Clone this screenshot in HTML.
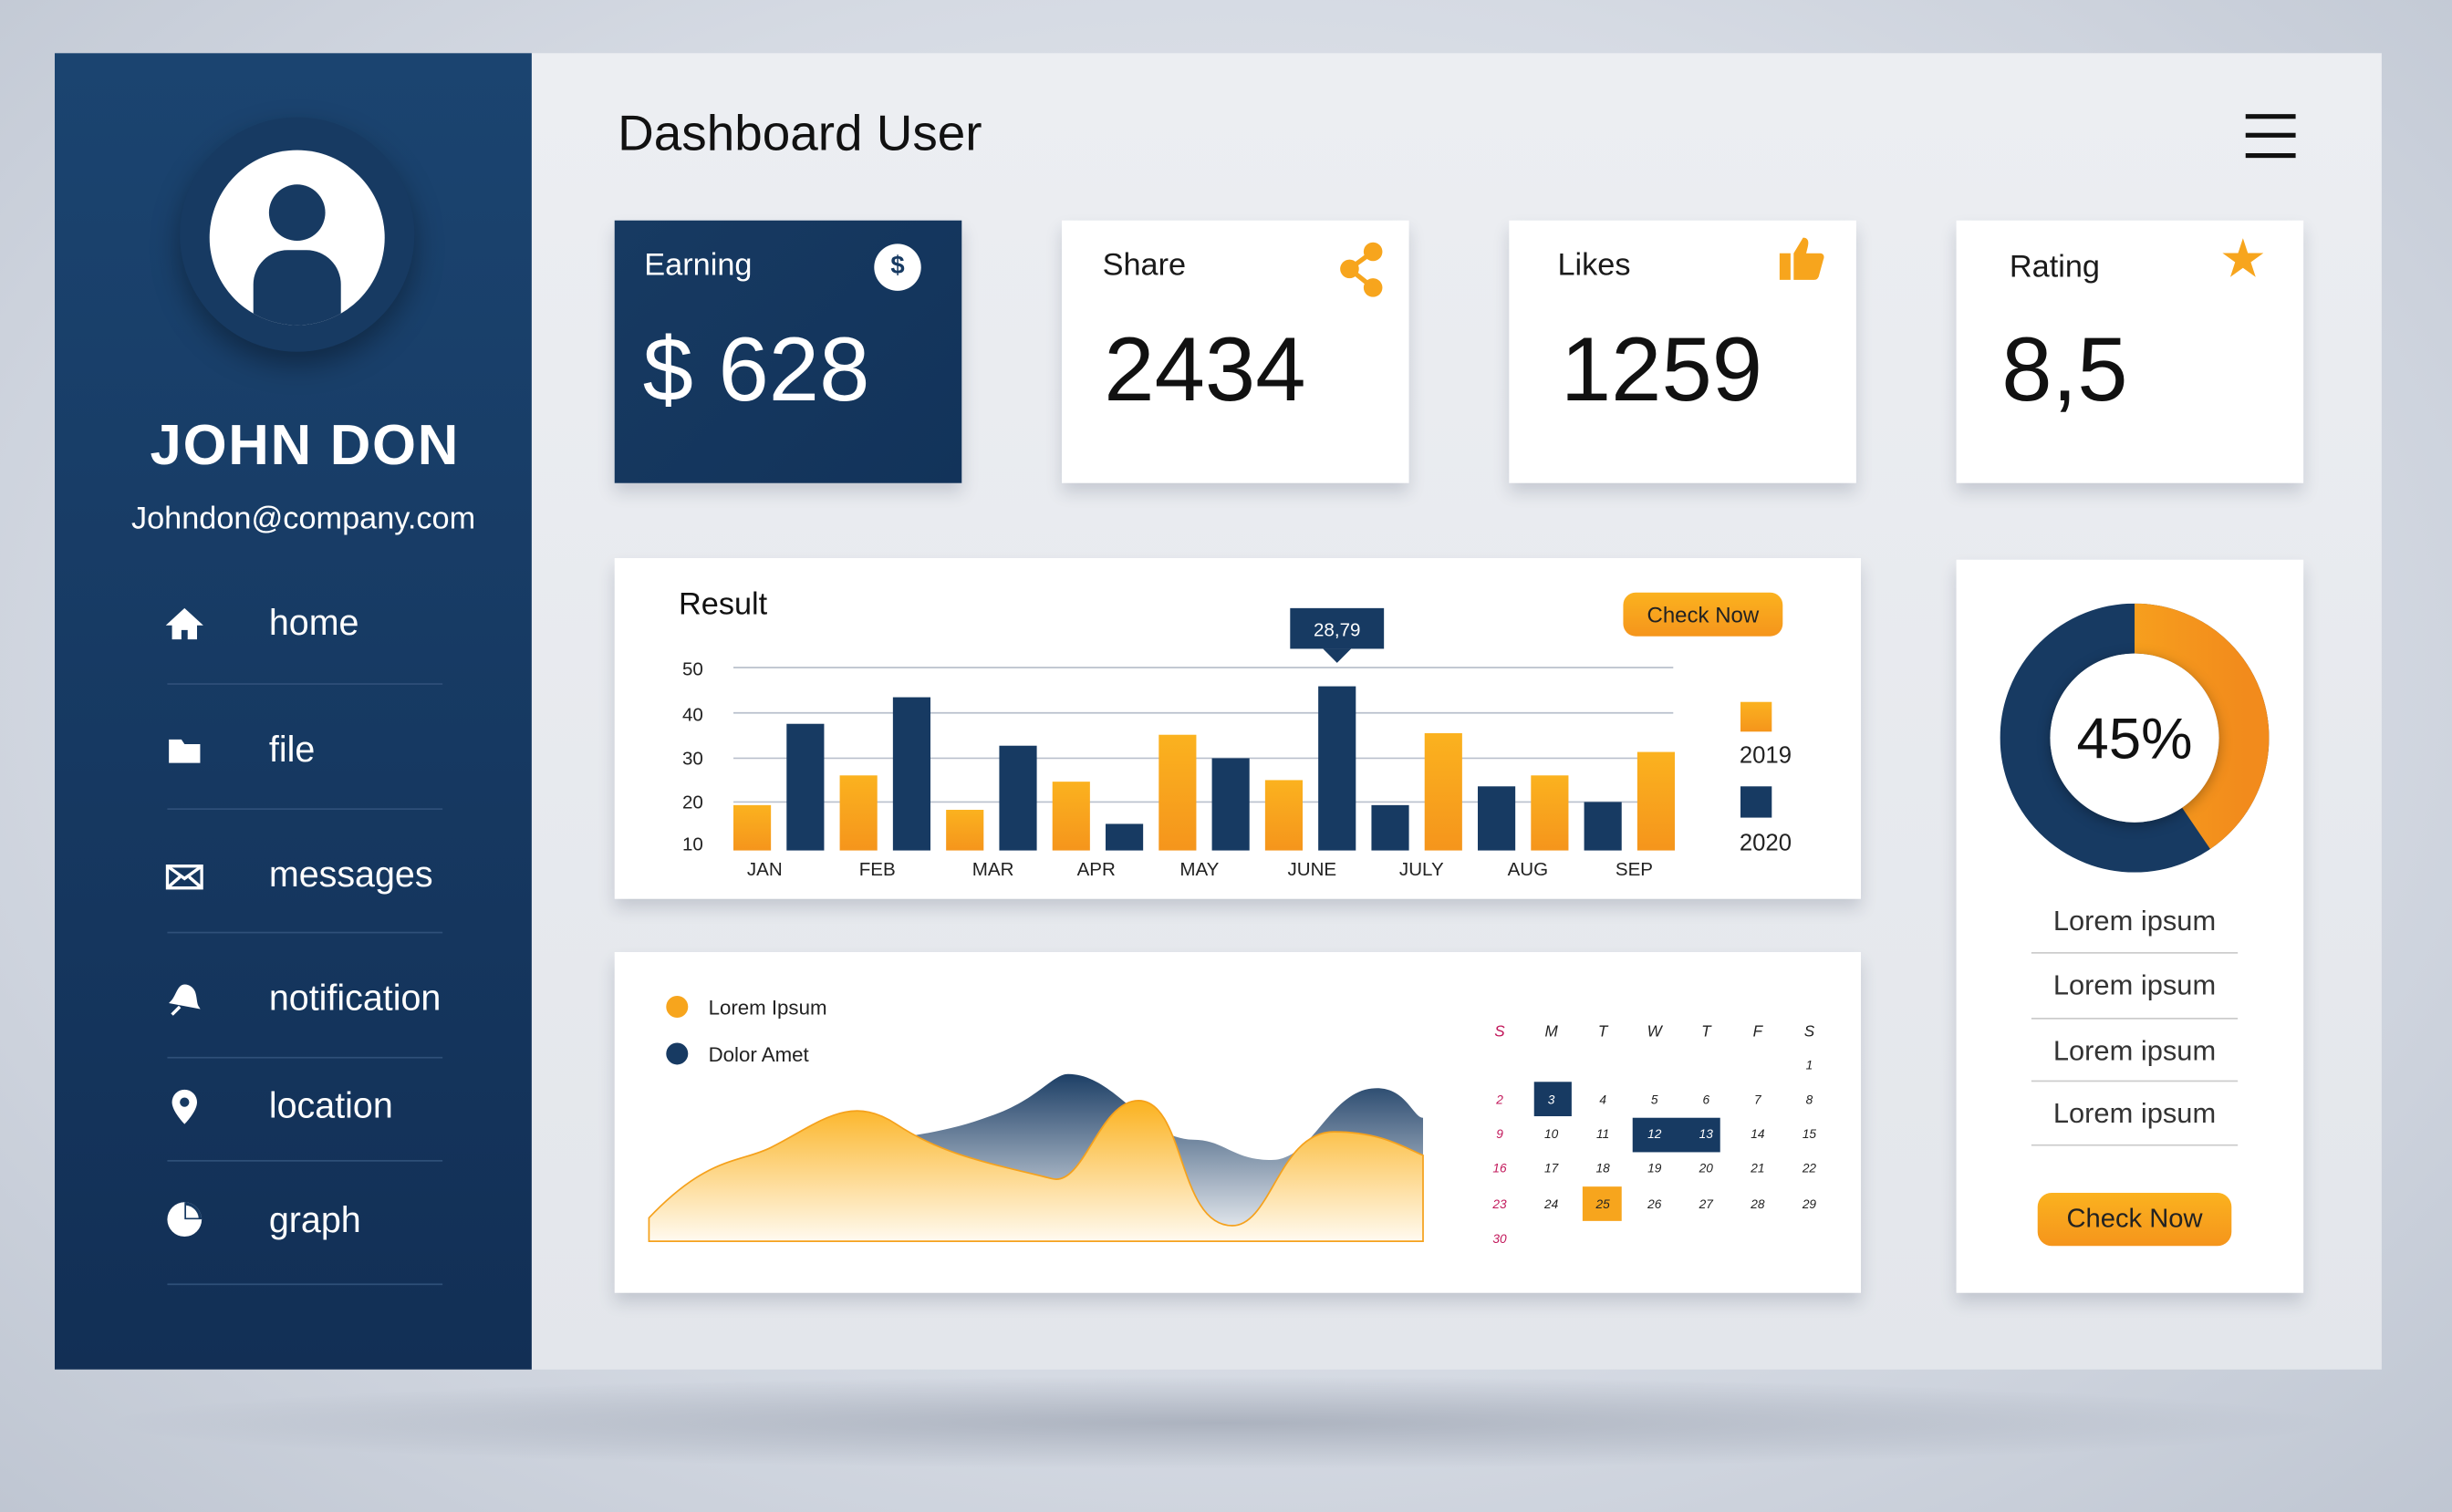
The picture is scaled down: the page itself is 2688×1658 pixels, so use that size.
<!DOCTYPE html>
<html><head><meta charset="utf-8"><style>
html,body{margin:0;padding:0;}
body{width:2688px;height:1658px;overflow:hidden;background:radial-gradient(ellipse at 50% 45%,#eef0f4 0%,#d5dae3 60%,#bfc6d2 100%);font-family:"Liberation Sans",sans-serif;}
#w{position:absolute;left:0;top:0;width:1568px;height:967px;transform:scale(1.7143);transform-origin:0 0;}
.a{position:absolute;}
.card{position:absolute;background:#fff;box-shadow:0 6px 10px rgba(40,50,80,.18);}
.lbl{position:absolute;font-size:20px;color:#1a1a1a;}
.val{position:absolute;font-size:58px;color:#111;}
.menu{position:absolute;left:172px;font-size:23px;color:#fff;}
.div{position:absolute;left:107px;width:176px;height:1px;background:#2f5079;}
.ic{position:absolute;left:106px;width:24px;height:24px;}
.lor{position:absolute;left:1251px;width:228px;text-align:center;font-size:18px;color:#333;}
</style></head><body><div id="w">
<div class="a" style="left:60px;top:880px;width:1440px;height:60px;background:radial-gradient(ellipse,rgba(80,90,110,.3),rgba(80,90,110,0) 70%);"></div>
<div class="a" style="left:35px;top:34px;width:1488px;height:842px;background:linear-gradient(180deg,#eceef2,#e3e6eb);"></div>
<div class="a" style="left:35px;top:34px;width:305px;height:842px;background:linear-gradient(180deg,#1b4470,#122f55);"></div>
<div class="a" style="left:115px;top:75px;width:150px;height:150px;border-radius:50%;background:#173a62;box-shadow:0 8px 18px rgba(0,0,0,.35);"></div>
<div class="a" style="left:134px;top:96px;width:112px;height:112px;border-radius:50%;background:#fff;overflow:hidden;">
 <div class="a" style="left:38px;top:22px;width:36px;height:36px;border-radius:50%;background:#173a62;"></div>
 <div class="a" style="left:28px;top:64px;width:56px;height:60px;border-radius:22px 22px 0 0;background:#173a62;"></div>
</div>
<div class="a" style="left:35px;top:264px;width:320px;text-align:center;font-size:36px;color:#fff;font-weight:bold;letter-spacing:1px;">JOHN DON</div>
<div class="a" style="left:35px;top:321px;width:318px;text-align:center;font-size:20px;color:#fff;">Johndon@company.com</div>
<svg class="ic" style="top:387px" viewBox="0 0 24 24"><path d="M12 2L0 13h4v9h6v-6h4v6h6v-9h4z" fill="#fff"/></svg>
<div class="menu" style="top:385px">home</div><div class="div" style="top:437px"></div>
<svg class="ic" style="top:468px" viewBox="0 0 24 24"><path d="M2 5h8l2 3h10v12H2z" fill="#fff"/></svg>
<div class="menu" style="top:466px">file</div><div class="div" style="top:517px"></div>
<svg class="ic" style="top:549px" viewBox="0 0 24 24"><rect x="1" y="5" width="22" height="14" fill="none" stroke="#fff" stroke-width="2"/><path d="M1 5l11 8 11-8M1 19l8-7M23 19l-8-7" stroke="#fff" stroke-width="2" fill="none"/></svg>
<div class="menu" style="top:546px">messages</div><div class="div" style="top:596px"></div>
<svg class="ic" style="top:627px" viewBox="0 0 24 24"><path d="M4 14c4-4 4-12 10-10 6 2 4 10 6 13zM4 22l5-5" fill="#fff" stroke="#fff" stroke-width="2"/></svg>
<div class="menu" style="top:625px">notification</div><div class="div" style="top:676px"></div>
<svg class="ic" style="top:696px" viewBox="0 0 24 24"><path d="M12 1a8 8 0 0 0-8 8c0 6 8 14 8 14s8-8 8-14a8 8 0 0 0-8-8z" fill="#fff"/><circle cx="12" cy="9" r="3" fill="#173a62"/></svg>
<div class="menu" style="top:694px">location</div><div class="div" style="top:742px"></div>
<svg class="ic" style="top:768px" viewBox="0 0 24 24"><circle cx="12" cy="12" r="11" fill="#fff"/><path d="M12 12V1a11 11 0 0 1 11 11z" fill="#173a62"/><path d="M13 11V3a9 9 0 0 1 8 8z" fill="#fff"/></svg>
<div class="menu" style="top:767px">graph</div><div class="div" style="top:821px"></div>

<div class="a" style="left:395px;top:67px;font-size:32px;color:#111;">Dashboard User</div>
<div class="a" style="left:1436px;top:73px;width:32px;height:3px;background:#111;box-shadow:0 12px 0 #111,0 25px 0 #111;"></div>

<div class="card" style="left:393px;top:141px;width:222px;height:168px;background:linear-gradient(135deg,#173a62,#12335a);"></div>
<div class="lbl" style="left:412px;top:159px;color:#fff">Earning</div>
<div class="a" style="left:559px;top:156px;width:30px;height:30px;border-radius:50%;background:#fff;color:#173a62;font-weight:bold;font-size:16px;text-align:center;line-height:30px;">$</div>
<div class="val" style="left:411px;top:203px;color:#fff">$ 628</div>
<div class="card" style="left:679px;top:141px;width:222px;height:168px;"></div>
<div class="lbl" style="left:705px;top:159px">Share</div>
<svg class="a" style="left:856px;top:154px" width="30" height="36"><circle cx="22" cy="7" r="6" fill="#f7a51d"/><circle cx="7" cy="18" r="6" fill="#f7a51d"/><circle cx="22" cy="30" r="6" fill="#f7a51d"/><path d="M22 7L7 18 22 30" stroke="#f7a51d" stroke-width="3" fill="none"/></svg>
<div class="val" style="left:706px;top:203px">2434</div>
<div class="card" style="left:965px;top:141px;width:222px;height:168px;"></div>
<div class="lbl" style="left:996px;top:159px">Likes</div>
<svg class="a" style="left:1137px;top:150px" width="30" height="32" viewBox="0 0 30 32"><rect x="1" y="12" width="7" height="17" fill="#f7a51d"/><path d="M10 12l6-10c3 0 4 2 3 6l-1 4h9c2 0 3 2 2 4l-3 11c-1 2-2 2-3 2H10z" fill="#f7a51d"/></svg>
<div class="val" style="left:998px;top:203px">1259</div>
<div class="card" style="left:1251px;top:141px;width:222px;height:168px;"></div>
<div class="lbl" style="left:1285px;top:160px">Rating</div>
<div class="a" style="left:1419px;top:146px;font-size:34px;color:#f7a51d;">★</div>
<div class="val" style="left:1280px;top:203px">8,5</div>

<div class="card" style="left:393px;top:357px;width:797px;height:218px;"></div>
<div class="a" style="left:434px;top:376px;font-size:20px;color:#111;">Result</div>
<svg class="a" style="left:393px;top:357px" width="797" height="218">
<defs><linearGradient id="og" x1="0" y1="0" x2="0" y2="1"><stop offset="0" stop-color="#fbb21f"/><stop offset="1" stop-color="#f5951c"/></linearGradient></defs>
<g stroke="#b9c0cc" stroke-width="1"><line x1="76" y1="70" x2="677" y2="70"/><line x1="76" y1="99" x2="677" y2="99"/><line x1="76" y1="128" x2="677" y2="128"/><line x1="76" y1="156" x2="677" y2="156"/></g>
<g fill="url(#og)"><rect x="76" y="158" width="24" height="29"/><rect x="144" y="139" width="24" height="48"/><rect x="212" y="161" width="24" height="26"/><rect x="280" y="143" width="24" height="44"/><rect x="348" y="113" width="24" height="74"/><rect x="416" y="142" width="24" height="45"/><rect x="518" y="112" width="24" height="75"/><rect x="586" y="139" width="24" height="48"/><rect x="654" y="124" width="24" height="63"/></g>
<g fill="#173a62"><rect x="110" y="106" width="24" height="81"/><rect x="178" y="89" width="24" height="98"/><rect x="246" y="120" width="24" height="67"/><rect x="314" y="170" width="24" height="17"/><rect x="382" y="128" width="24" height="59"/><rect x="450" y="82" width="24" height="105"/><rect x="484" y="158" width="24" height="29"/><rect x="552" y="146" width="24" height="41"/><rect x="620" y="156" width="24" height="31"/></g>
<rect x="432" y="32" width="60" height="26" fill="#173a62"/><path d="M453 58h18l-9 9z" fill="#173a62"/>
<text x="462" y="50" font-size="12" fill="#fff" text-anchor="middle" font-family="Liberation Sans">28,79</text>
<rect x="645" y="22" width="102" height="28" rx="8" fill="url(#og)"/>
<text x="696" y="41" font-size="14" fill="#222" text-anchor="middle" font-family="Liberation Sans">Check Now</text>
<rect x="720" y="92" width="20" height="19" fill="url(#og)"/><rect x="720" y="146" width="20" height="20" fill="#173a62"/>
<text x="736" y="131" font-size="15" fill="#222" text-anchor="middle" font-family="Liberation Sans">2019</text>
<text x="736" y="187" font-size="15" fill="#222" text-anchor="middle" font-family="Liberation Sans">2020</text>
<g font-size="12" fill="#222" font-family="Liberation Sans" text-anchor="middle"><text x="50" y="75">50</text><text x="50" y="104">40</text><text x="50" y="132">30</text><text x="50" y="160">20</text><text x="50" y="187">10</text>
<text x="96" y="203">JAN</text><text x="168" y="203">FEB</text><text x="242" y="203">MAR</text><text x="308" y="203">APR</text><text x="374" y="203">MAY</text><text x="446" y="203">JUNE</text><text x="516" y="203">JULY</text><text x="584" y="203">AUG</text><text x="652" y="203">SEP</text></g>
</svg>

<div class="card" style="left:393px;top:609px;width:797px;height:218px;"></div>
<svg class="a" style="left:393px;top:609px" width="797" height="218">
<defs><linearGradient id="bg2" x1="0" y1="0" x2="0" y2="1"><stop offset="0" stop-color="#1d3f66"/><stop offset="1" stop-color="#f2f4f7"/></linearGradient>
<linearGradient id="og2" x1="0" y1="0" x2="0" y2="1"><stop offset="0" stop-color="#fbb21f"/><stop offset="1" stop-color="#fffaf0"/></linearGradient></defs>
<circle cx="40" cy="35" r="7" fill="#f7a51d"/><circle cx="40" cy="65" r="7" fill="#173a62"/>
<text x="60" y="40" font-size="13" fill="#222" font-family="Liberation Sans">Lorem Ipsum</text>
<text x="60" y="70" font-size="13" fill="#222" font-family="Liberation Sans">Dolor Amet</text>
<path d="M100 130 C160 120 200 120 240 105 C270 95 280 78 290 78 C320 78 340 120 370 120 C390 120 395 133 420 133 C445 133 455 95 480 88 C505 82 510 106 517 106 L517 185 L100 185Z" fill="url(#bg2)"/>
<path d="M22 170 C60 130 80 135 100 125 C130 110 150 90 180 110 C210 130 240 135 280 145 C300 150 310 95 335 95 C365 95 360 175 395 175 C420 175 425 115 460 115 C490 115 505 125 517 130 L517 185 L22 185Z" fill="url(#og2)" stroke="#f5a11c" stroke-width="1"/>
<g font-family="Liberation Sans" font-style="italic" font-size="8" text-anchor="middle" fill="#222">
<g font-size="10"><text x="566" y="54" fill="#c2185b">S</text><text x="599" y="54">M</text><text x="632" y="54">T</text><text x="665" y="54">W</text><text x="698" y="54">T</text><text x="731" y="54">F</text><text x="764" y="54">S</text></g>
<rect x="588" y="83" width="24" height="22" fill="#173a62"/><rect x="651" y="106" width="56" height="22" fill="#173a62"/><rect x="619" y="150" width="25" height="22" fill="#f7a51d"/>
<text x="764" y="75">1</text>
<text x="566" y="97" fill="#c2185b">2</text><text x="599" y="97" fill="#fff">3</text><text x="632" y="97">4</text><text x="665" y="97">5</text><text x="698" y="97">6</text><text x="731" y="97">7</text><text x="764" y="97">8</text>
<text x="566" y="119" fill="#c2185b">9</text><text x="599" y="119">10</text><text x="632" y="119">11</text><text x="665" y="119" fill="#fff">12</text><text x="698" y="119" fill="#fff">13</text><text x="731" y="119">14</text><text x="764" y="119">15</text>
<text x="566" y="141" fill="#c2185b">16</text><text x="599" y="141">17</text><text x="632" y="141">18</text><text x="665" y="141">19</text><text x="698" y="141">20</text><text x="731" y="141">21</text><text x="764" y="141">22</text>
<text x="566" y="164" fill="#c2185b">23</text><text x="599" y="164">24</text><text x="632" y="164">25</text><text x="665" y="164">26</text><text x="698" y="164">27</text><text x="731" y="164">28</text><text x="764" y="164">29</text>
<text x="566" y="186" fill="#c2185b">30</text></g>
</svg>

<div class="card" style="left:1251px;top:358px;width:222px;height:469px;"></div>
<svg class="a" style="left:1279px;top:386px" width="172" height="172" viewBox="0 0 172 172">
<defs><linearGradient id="dg" x1="0" y1="0" x2="0" y2="1"><stop offset="0" stop-color="#fbb21f"/><stop offset="1" stop-color="#f28b1c"/></linearGradient></defs>
<circle cx="86" cy="86" r="70" fill="none" stroke="#173a62" stroke-width="32"/>
<circle cx="86" cy="86" r="70" fill="none" stroke="url(#dg)" stroke-width="32" stroke-dasharray="178 500" transform="rotate(-90 86 86)"/>
<circle cx="86" cy="86" r="54" fill="#fff" style="filter:drop-shadow(0 2px 4px rgba(0,0,0,.3))"/>
<text x="86" y="99" font-size="37" text-anchor="middle" fill="#111" font-family="Liberation Sans">45%</text>
</svg>
<div class="lor" style="top:579px">Lorem ipsum</div><div class="a" style="left:1299px;top:609px;width:132px;height:1px;background:#ccc"></div>
<div class="lor" style="top:620px">Lorem ipsum</div><div class="a" style="left:1299px;top:651px;width:132px;height:1px;background:#ccc"></div>
<div class="lor" style="top:662px">Lorem ipsum</div><div class="a" style="left:1299px;top:691px;width:132px;height:1px;background:#ccc"></div>
<div class="lor" style="top:702px">Lorem ipsum</div><div class="a" style="left:1299px;top:732px;width:132px;height:1px;background:#ccc"></div>
<div class="a" style="left:1303px;top:763px;width:124px;height:34px;border-radius:9px;background:linear-gradient(180deg,#fbb21f,#f5951c);text-align:center;line-height:34px;font-size:17px;color:#222;">Check Now</div>
</div></body></html>
